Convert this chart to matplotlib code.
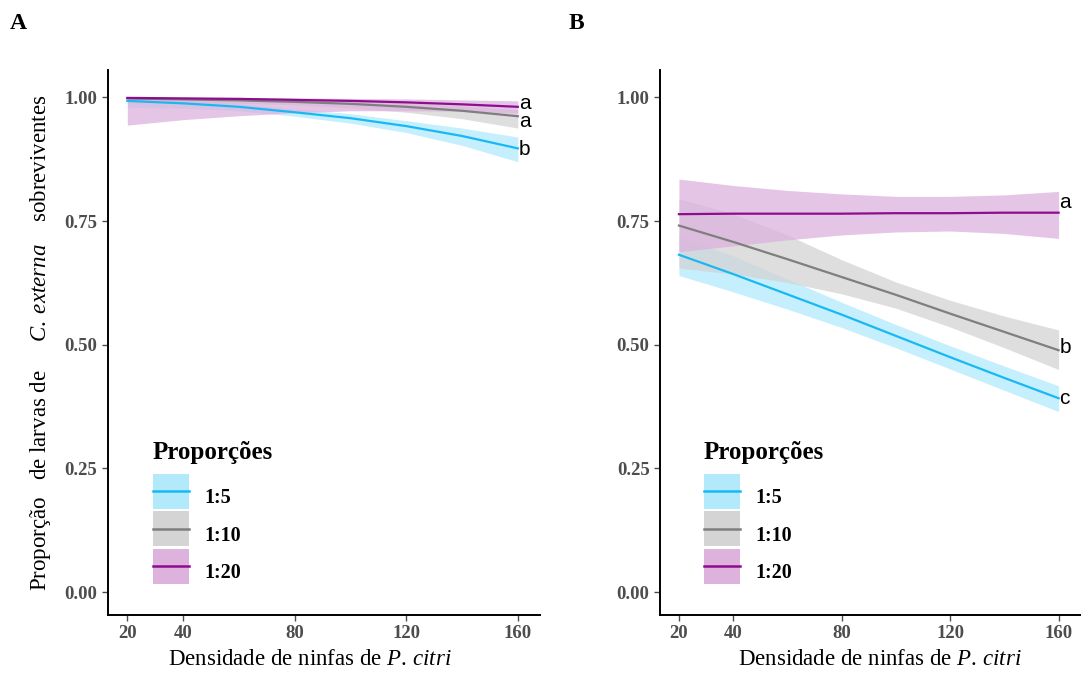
import matplotlib.pyplot as plt
from matplotlib.patches import Patch, Rectangle
from matplotlib.lines import Line2D
from matplotlib.legend_handler import HandlerPatch

plt.rcParams['font.family'] = 'Liberation Serif'
plt.rcParams['mathtext.fontset'] = 'custom'
plt.rcParams['mathtext.rm'] = 'Liberation Serif'
plt.rcParams['mathtext.it'] = 'Liberation Serif:italic'

# nymph density
dens = [20, 40, 60, 80, 100, 120, 140, 160]
groups = ['1:5', '1:10', '1:20']
line_cols = ['#1AB8F2', '#7F7F7F', '#8E0C8E']
fill_cols = ['#B2EAFC', '#D4D4D4', '#DDB2DD']

# panel A - fitted proportion and confidence band
a_fit = {
    '1:5':  [0.993, 0.988, 0.981, 0.970, 0.958, 0.942, 0.922, 0.897],
    '1:10': [0.998, 0.996, 0.994, 0.991, 0.987, 0.981, 0.973, 0.962],
    '1:20': [0.999, 0.998, 0.997, 0.995, 0.993, 0.990, 0.986, 0.981],
}
a_lo = {
    '1:5':  [0.980, 0.978, 0.973, 0.962, 0.948, 0.929, 0.903, 0.870],
    '1:10': [0.988, 0.989, 0.988, 0.985, 0.979, 0.970, 0.957, 0.938],
    '1:20': [0.944, 0.955, 0.963, 0.969, 0.973, 0.973, 0.972, 0.968],
}
a_hi = {
    '1:5':  [0.998, 0.995, 0.987, 0.977, 0.967, 0.953, 0.938, 0.920],
    '1:10': [1.000, 0.999, 0.998, 0.996, 0.993, 0.989, 0.983, 0.975],
    '1:20': [1.000, 1.000, 1.000, 0.999, 0.998, 0.997, 0.995, 0.993],
}
a_letters = ['b', 'a', 'a']
a_letter_y = [0.895, 0.952, 0.987]

# panel B
b_fit = {
    '1:5':  [0.682, 0.643, 0.602, 0.561, 0.518, 0.475, 0.433, 0.392],
    '1:10': [0.741, 0.708, 0.673, 0.637, 0.601, 0.563, 0.526, 0.489],
    '1:20': [0.764, 0.765, 0.765, 0.765, 0.766, 0.766, 0.767, 0.767],
}
b_lo = {
    '1:5':  [0.640, 0.607, 0.572, 0.535, 0.494, 0.451, 0.408, 0.365],
    '1:10': [0.655, 0.643, 0.626, 0.603, 0.574, 0.536, 0.494, 0.450],
    '1:20': [0.688, 0.700, 0.712, 0.722, 0.728, 0.730, 0.725, 0.715],
}
b_hi = {
    '1:5':  [0.720, 0.680, 0.633, 0.586, 0.541, 0.498, 0.457, 0.417],
    '1:10': [0.795, 0.765, 0.722, 0.672, 0.627, 0.590, 0.558, 0.530],
    '1:20': [0.835, 0.822, 0.812, 0.805, 0.800, 0.800, 0.803, 0.810],
}
b_letters = ['c', 'b', 'a']
b_letter_y = [0.392, 0.495, 0.787]

xticks = [20, 40, 80, 120, 160]
yticks = [0.00, 0.25, 0.50, 0.75, 1.00]


def centered_box(legend, orig_handle, xdescent, ydescent, width, height, fontsize):
    # keep the key box centred on the line
    return Rectangle((-xdescent, -ydescent / 2), width, height)


fig = plt.figure(figsize=(10.89, 6.75), dpi=100)
axA = fig.add_axes([0.099, 0.089, 0.397, 0.807])
axB = fig.add_axes([0.606, 0.089, 0.386, 0.807])


def draw_panel(ax, fit, lo, hi, letters, letter_y, panel, px, xlab_x):
    handles = []
    for g, lc, fc in zip(groups, line_cols, fill_cols):
        ax.fill_between(dens, lo[g], hi[g], color=fc, alpha=0.75, lw=0)
    for g, lc, fc in zip(groups, line_cols, fill_cols):
        ax.plot(dens, fit[g], color=lc, lw=1.6)
        handles.append((Patch(facecolor=fc, edgecolor='none'),
                        Line2D([], [], color=lc, lw=1.8)))
    for lt, ly in zip(letters, letter_y):
        ax.text(160.3, ly, lt, fontsize=15, family='Liberation Sans',
                ha='left', va='center')
    ax.set_xlim(13, 168)
    ax.set_ylim(-0.046, 1.055)
    ax.set_xticks(xticks)
    ax.set_yticks(yticks)
    ax.set_yticklabels(['%.2f' % v for v in yticks])
    for s in ['top', 'right']:
        ax.spines[s].set_visible(False)
    for s in ['left', 'bottom']:
        ax.spines[s].set_linewidth(1.4)
    ax.tick_params(labelsize=13.5, colors='#4D4D4D', length=4, width=1.0)
    for t in ax.get_xticklabels() + ax.get_yticklabels():
        t.set_fontweight('bold')
    ax.set_xlabel('Densidade de ninfas de $\\it{P.\\,citri}$', fontsize=16.5)
    ax.xaxis.set_label_coords(xlab_x, -0.062)
    leg = ax.legend(handles, groups, loc='lower left', bbox_to_anchor=(0.104, 0.047),
                    borderaxespad=0, borderpad=0,
                    handler_map={Patch: HandlerPatch(patch_func=centered_box)},
                    frameon=False, title='Proporções', handlelength=1.8,
                    handleheight=2.3, labelspacing=0.12, handletextpad=0.75,
                    prop={'weight': 'bold', 'size': 14.5})
    leg.get_title().set_fontweight('bold')
    leg.get_title().set_fontsize(18)
    leg._legend_box.align = 'left'
    leg._legend_box.sep = 11
    fig.text(px, 0.965, panel, fontsize=17, fontweight='bold', ha='left', va='center')


draw_panel(axA, a_fit, a_lo, a_hi, a_letters, a_letter_y, 'A', 0.009, 0.468)
draw_panel(axB, b_fit, b_lo, b_hi, b_letters, b_letter_y, 'B', 0.522, 0.522)
axA.set_ylabel('Proporção   de larvas de     $\\it{C.\\;externa}$    sobreviventes',
               fontsize=16.5, labelpad=8)

fig.savefig('out.png', dpi=100)
